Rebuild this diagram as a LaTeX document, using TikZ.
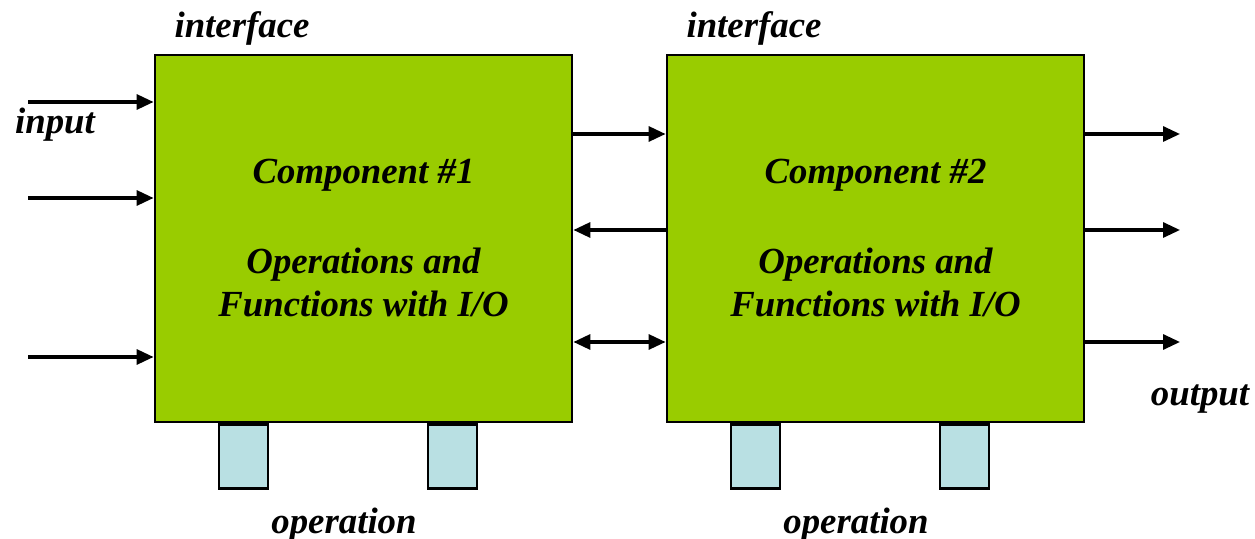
\documentclass[tikz,border=0pt]{standalone}
\usepackage{fontspec}
\setmainfont{Liberation Serif}
\usepackage{tikz}
\usetikzlibrary{arrows.meta}
\usetikzlibrary{positioning}
\definecolor{compgreen}{RGB}{153,204,0}
\definecolor{pinblue}{RGB}{185,224,227}
\tikzset{
    component/.style={
      rectangle,
      draw=black, line width=1.4pt,
      fill=compgreen,
      minimum width=208.5pt,
      minimum height=183.5pt,
      inner sep=0pt,
      align=center,
      font=\fontsize{18.4}{21.5}\selectfont\bfseries\itshape,
    },
    pin box/.style={
      rectangle,
      draw=black, line width=1.2pt,
      fill=pinblue,
      minimum width=24.5pt,
      minimum height=32pt,
      inner sep=0pt,
    },
    tag/.style={
      inner sep=0pt,
      font=\fontsize{18.4}{21.5}\selectfont\bfseries\itshape,
    },
    signal/.style={
      line width=1.6pt,
      -{Triangle[length=8.5pt,width=7.5pt]},
    },
}
\begin{document}
\begin{tikzpicture}[x=0.5pt,y=-0.5pt]
    \useasboundingbox (0,0) rectangle (1255,539);

    \node[component] (C1) at (363.5,238.5)
    {Component \#1\\[23.5pt] Operations and\\Functions with I/O};

    \node[component,
    right of=C1,
    node distance=256pt] (C2)
    {Component \#2\\[23.5pt] Operations and\\Functions with I/O};

    % operation pins below the boxes
    \node[pin box, anchor=north] (P1a) at ([xshift=-60pt]C1.south) {};
    \node[pin box, anchor=north] (P1b) at ([xshift=44.5pt]C1.south) {};
    \node[pin box, anchor=north] (P2a) at ([xshift=-60pt]C2.south) {};
    \node[pin box, anchor=north] (P2b) at ([xshift=44.5pt]C2.south) {};

    % labels
    \node[tag] (IF1) at (242,28) {interface};
    \node[tag] (IF2) at (754,28) {interface};
    \node[tag] (IN) at (55,125) {input};
    \node[tag] (OUT) at (1200,399) {output};
    \node[tag] (OP1) at (344,525) {operation};
    \node[tag] (OP2) at (856,525) {operation};

    % free ends of the signals
    \coordinate (in1) at (28,102);
    \coordinate (in2) at (28,198);
    \coordinate (in3) at (28,357);
    \coordinate (out1) at (1180,134);
    \coordinate (out2) at (1180,230);
    \coordinate (out3) at (1180,342);

    \draw[signal] (in1) -- (in1 -| C1.west);
    \draw[signal] (in2) -- (in2 -| C1.west);
    \draw[signal] (in3) -- (in3 -| C1.west);

    \draw[signal] ([yshift=52.25pt]C1.east) -- ([yshift=52.25pt]C2.west);
    \draw[signal] ([yshift=4.25pt]C2.west) -- ([yshift=4.25pt]C1.east);
    \draw[signal, {Triangle[length=8.5pt,width=7.5pt]}-{Triangle[length=8.5pt,width=7.5pt]}]
      ([yshift=-51.75pt]C1.east) -- ([yshift=-51.75pt]C2.west);

    \draw[signal] (out1 -| C2.east) -- (out1);
    \draw[signal] (out2 -| C2.east) -- (out2);
    \draw[signal] (out3 -| C2.east) -- (out3);

\end{tikzpicture}
\end{document}
